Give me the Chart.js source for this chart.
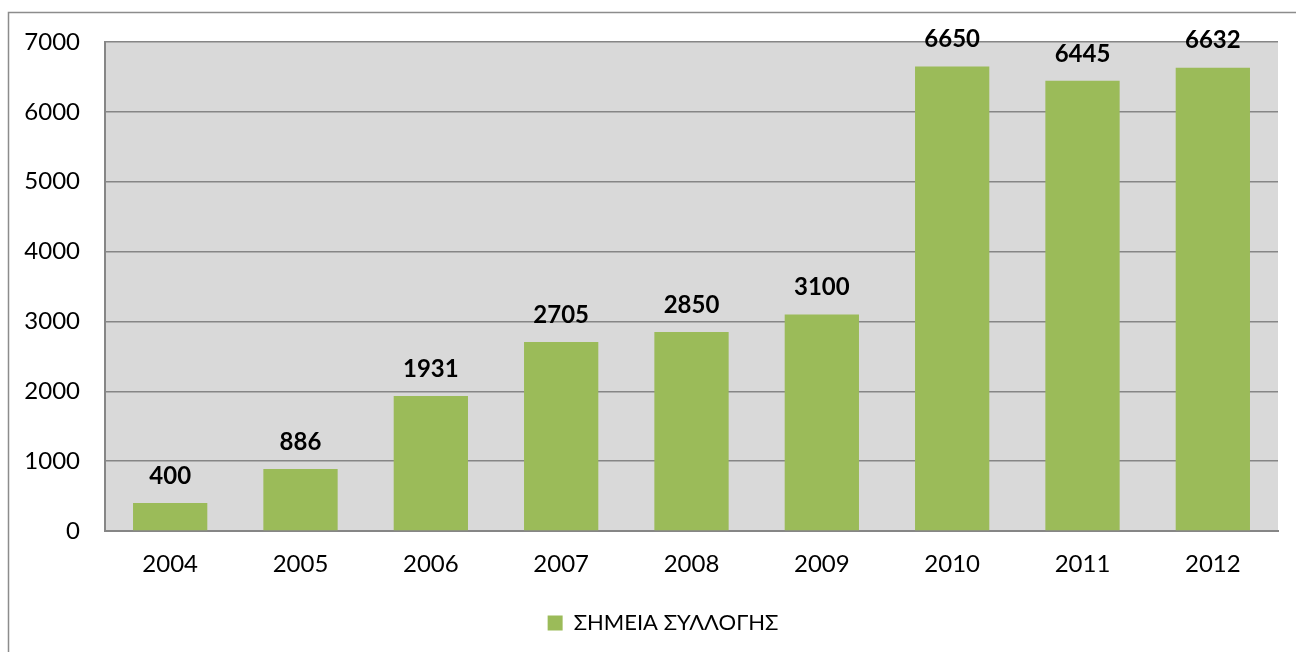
<!DOCTYPE html>
<html>
<head>
<meta charset="utf-8">
<script src="https://cdn.jsdelivr.net/npm/chart.js@4"></script>
<style>
  html, body { margin: 0; padding: 0; background: #fff; }
  #wrap { width: 1296px; height: 652px; }
</style>
</head>
<body>
<div id="wrap"><canvas id="barChart" width="1296" height="652"></canvas></div>
<script>
const years = ['2004', '2005', '2006', '2007', '2008', '2009', '2010', '2011', '2012'];
const points = [400, 886, 1931, 2705, 2850, 3100, 6650, 6445, 6632];
const seriesName = 'ΣΗΜΕΙΑ ΣΥΛΛΟΓΗΣ';
const yTicks = [0, 1000, 2000, 3000, 4000, 5000, 6000, 7000];

const FONT = "Lato, 'Open Sans', sans-serif";

// gray frame + plot background
const framePlugin = {
    id: 'frame',
    beforeDraw(chart) {
        const ctx = chart.ctx;
        const a = chart.chartArea;
        ctx.save();
        ctx.fillStyle = '#fff';
        ctx.fillRect(0, 0, chart.width, chart.height);
        ctx.strokeStyle = '#8c8c8c';
        ctx.lineWidth = 1.5;
        ctx.strokeRect(8.5, 12.5, 1400, 800);
        ctx.fillStyle = '#d9d9d9';
        ctx.fillRect(a.left, a.top, a.right - a.left, a.bottom - a.top);
        ctx.restore();
    }
};

// nudge legend a bit right/down like the original
const legendShift = {
    id: 'legendShift',
    afterLayout(chart) {
        const lg = chart.legend;
        lg.left += 24; lg.right += 24;
        lg.top += 3; lg.bottom += 3;
    }
};

// values above bars
const labelPlugin = {
    id: 'valueLabels',
    afterDatasetsDraw(chart) {
        const ctx = chart.ctx;
        const meta = chart.getDatasetMeta(0);
        ctx.save();
        ctx.font = 'bold 24px ' + FONT;
        ctx.fillStyle = '#000';
        ctx.textAlign = 'center';
        ctx.textBaseline = 'middle';
        meta.data.forEach((bar, i) => {
            ctx.fillText(String(points[i]), bar.x, bar.y - 27);
        });
        ctx.restore();
    }
};

new Chart(document.getElementById('barChart').getContext('2d'), {
    type: 'bar',
    data: {
        labels: years,
        datasets: [{
            label: seriesName,
            data: points,
            backgroundColor: '#9bbb59',
            borderWidth: 0,
            barPercentage: 0.57,
            categoryPercentage: 1.0
        }]
    },
    options: {
        responsive: false,
        animation: false,
        layout: { padding: { left: 0, top: 42, right: 18, bottom: 11 } },
        plugins: {
            legend: {
                position: 'bottom',
                labels: {
                    font: { family: FONT, size: 22 },
                    color: '#000',
                    boxWidth: 15,
                    boxHeight: 15,
                    padding: 18
                }
            },
            tooltip: { enabled: false }
        },
        scales: {
            x: {
                grid: { display: false, drawTicks: false },
                border: { color: '#868686', width: 2 },
                ticks: { color: '#000', font: { family: FONT, size: 24 }, padding: 19 },
                afterFit(scale) { scale.height = 60; }
            },
            y: {
                min: 0,
                max: 7000,
                afterBuildTicks(scale) { scale.ticks = yTicks.map(v => ({ value: v })); },
                grid: { color: '#868686', lineWidth: 1.5, drawTicks: false },
                border: { color: '#868686', width: 2 },
                ticks: {
                    color: '#000',
                    font: { family: FONT, size: 24 },
                    padding: 25,
                    callback: v => String(v)
                },
                afterFit(scale) { scale.width = 105; }
            }
        }
    },
    plugins: [framePlugin, legendShift, labelPlugin]
});
</script>
</body>
</html>
